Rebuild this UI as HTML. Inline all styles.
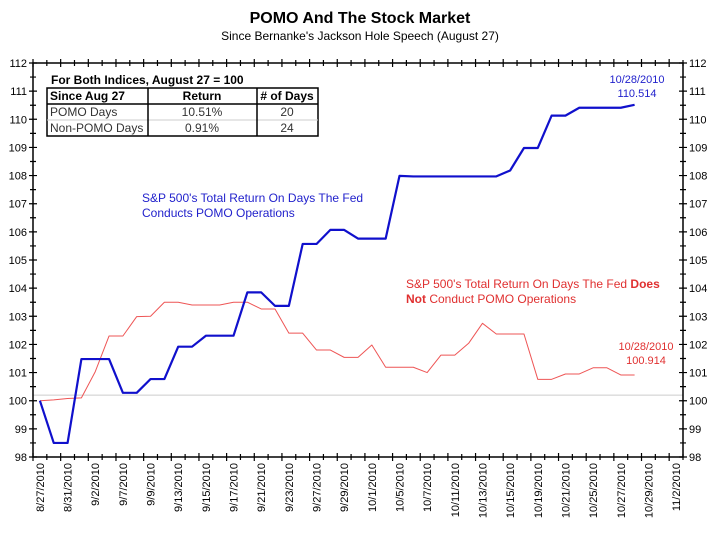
<!DOCTYPE html>
<html><head><meta charset="utf-8"><style>
body{margin:0;background:#fff;font-family:"Liberation Sans",Arial,sans-serif}
svg text{font-family:"Liberation Sans",Arial,sans-serif}
</style></head><body>
<svg id="c" width="720" height="535" xmlns="http://www.w3.org/2000/svg">
<text x="360" y="23" text-anchor="middle" font-size="16" font-weight="bold">POMO And The Stock Market</text>
<text x="360" y="40" text-anchor="middle" font-size="12">Since Bernanke's Jackson Hole Speech (August 27)</text>
<g font-size="12">
<text x="51" y="84" font-weight="bold">For Both Indices, August 27 = 100</text>
<rect x="47" y="88" width="271" height="48" fill="none" stroke="#000" stroke-width="1.5"/>
<line x1="47" y1="104" x2="318" y2="104" stroke="#000" stroke-width="1.5"/>
<line x1="47" y1="120" x2="318" y2="120" stroke="#ccc"/>
<line x1="148" y1="88" x2="148" y2="136" stroke="#000" stroke-width="1.5"/>
<line x1="257" y1="88" x2="257" y2="136" stroke="#000" stroke-width="1.5"/>
<text x="50" y="100" font-weight="bold">Since Aug 27</text>
<text x="202" y="100" text-anchor="middle" font-weight="bold">Return</text>
<text x="287" y="100" text-anchor="middle" font-weight="bold"># of Days</text>
<text x="50" y="116" fill="#333">POMO Days</text>
<text x="202" y="116" text-anchor="middle" fill="#333">10.51%</text>
<text x="287" y="116" text-anchor="middle" fill="#333">20</text>
<text x="50" y="132" fill="#333">Non-POMO Days</text>
<text x="202" y="132" text-anchor="middle" fill="#333">0.91%</text>
<text x="287" y="132" text-anchor="middle" fill="#333">24</text>
</g>
<g font-size="12" fill="#2222cc">
<text x="142" y="202">S&amp;P 500's Total Return On Days The Fed</text>
<text x="142" y="217">Conducts POMO Operations</text>
</g>
<g font-size="12" fill="#e03030">
<text x="406" y="288">S&amp;P 500's Total Return On Days The Fed <tspan font-weight="bold">Does</tspan></text>
<text x="406" y="303"><tspan font-weight="bold">Not</tspan> Conduct POMO Operations</text>
</g>
<g font-size="11" text-anchor="middle">
<text x="637" y="83" fill="#2222cc">10/28/2010</text>
<text x="637" y="97" fill="#2222cc">110.514</text>
<text x="646" y="350" fill="#e03030">10/28/2010</text>
<text x="646" y="364" fill="#e03030">100.914</text>
</g>
</svg>
<script>
const dates=["8/27/2010","8/30/2010","8/31/2010","9/1/2010","9/2/2010","9/3/2010","9/7/2010","9/8/2010","9/9/2010","9/10/2010","9/13/2010","9/14/2010","9/15/2010","9/16/2010","9/17/2010","9/20/2010","9/21/2010","9/22/2010","9/23/2010","9/24/2010","9/27/2010","9/28/2010","9/29/2010","9/30/2010","10/1/2010","10/4/2010","10/5/2010","10/6/2010","10/7/2010","10/8/2010","10/11/2010","10/12/2010","10/13/2010","10/14/2010","10/15/2010","10/18/2010","10/19/2010","10/20/2010","10/21/2010","10/22/2010","10/25/2010","10/26/2010","10/27/2010","10/28/2010","10/29/2010","11/1/2010","11/2/2010"];
const pomo=[100,98.5,98.5,101.48,101.48,101.48,100.28,100.28,100.77,100.77,101.92,101.92,102.31,102.31,102.31,103.85,103.85,103.37,103.37,105.57,105.57,106.07,106.07,105.76,105.76,105.76,107.99,107.97,107.97,107.97,107.97,107.97,107.97,107.97,108.18,108.98,108.98,110.13,110.13,110.41,110.41,110.41,110.41,110.514];
const nonPomo=[100,100.03,100.08,100.1,101.03,102.3,102.3,102.99,103,103.5,103.5,103.4,103.4,103.4,103.5,103.5,103.26,103.26,102.4,102.4,101.8,101.8,101.54,101.54,101.98,101.19,101.19,101.19,101.0,101.62,101.62,102.04,102.75,102.37,102.37,102.37,100.76,100.76,100.95,100.95,101.17,101.17,100.914,100.914];
const yTicks=[98,99,100,101,102,103,104,105,106,107,108,109,110,111,112];
const refLine=100.2;
const svg=document.getElementById('c'),NS='http://www.w3.org/2000/svg';
const L=33,R=683,T=63,B=457,yMin=98,yMax=112;
const bw=(R-L)/dates.length;
const xc=i=>L+bw*(i+0.5);
const y=v=>B-(v-yMin)/(yMax-yMin)*(B-T);
function mk(t,a){const e=document.createElementNS(NS,t);for(const k in a)e.setAttribute(k,a[k]);svg.appendChild(e);return e;}
const ref=mk('line',{x1:L,x2:R,y1:y(refLine),y2:y(refLine),stroke:'#ccc'});


const frame=mk('rect',{x:L,y:T,width:R-L,height:B-T,fill:'none',stroke:'#000','stroke-width':1.5});


let d='';
for(let v=yMin;v<=yMax+1e-9;v+=0.5){const yy=y(v),len=(v%1===0)?4:3;d+=`M${L-len} ${yy}H${L+len}M${R-len} ${yy}H${R+len}`;}
for(let i=0;i<=dates.length;i++){const xx=L+bw*i,len=(i%2===0)?4:3;d+=`M${xx} ${T-len}V${T+len}M${xx} ${B-len}V${B+len}`;}
const tk=mk('path',{d:d,stroke:'#000','stroke-width':1.2,fill:'none'});


yTicks.forEach(v=>{
 const a=mk('text',{x:L-6,y:y(v)+4,'text-anchor':'end','font-size':11});a.textContent=v;
 
 
 const b=mk('text',{x:R+6,y:y(v)+4,'font-size':11});b.textContent=v;
 
 
});
dates.forEach((s,i)=>{if(i%2)return;const x=xc(i)+4,yy=B+6;
 const t=mk('text',{x:x,y:yy,'text-anchor':'end','font-size':11,transform:`rotate(-90 ${x} ${yy})`});t.textContent=s;
 
 
});
function line(arr,col,w,name){const p=arr.map((v,i)=>`${xc(i)},${y(v)}`).join(' ');
 const e=mk('polyline',{points:p,fill:'none',stroke:col,'stroke-width':w,'stroke-linejoin':'round'});
 
 }
line(nonPomo,'#ee5555',1,'non-pomo-series');
line(pomo,'#1010cc',2.2,'pomo-series');
</script>
</body></html>
